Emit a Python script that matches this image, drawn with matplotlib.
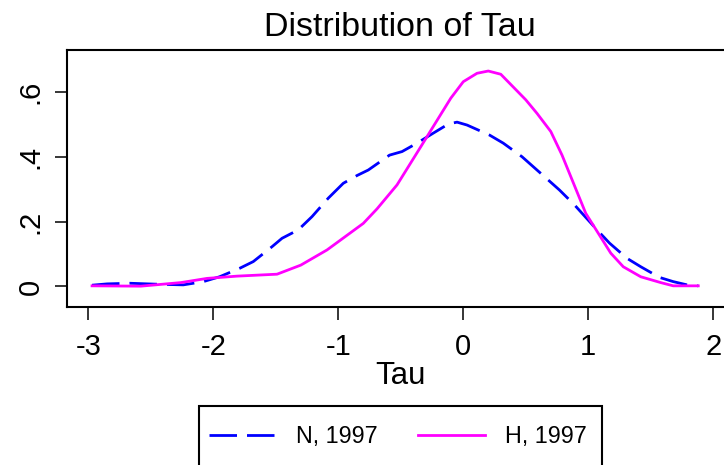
import matplotlib
matplotlib.use("Agg")
import matplotlib.pyplot as plt
from matplotlib.patches import Rectangle

plt.rcParams["font.family"] = ["Liberation Sans", "DejaVu Sans"]

# kernel density estimates
tau_n = [-2.97, -2.85, -2.67, -2.45, -2.24, -2.08, -1.95, -1.79, -1.68, -1.53,
         -1.45, -1.32, -1.21, -1.08, -0.96, -0.85, -0.76, -0.59, -0.49, -0.37,
         -0.24, -0.12, -0.05, 0.03, 0.21, 0.32, 0.47, 0.68, 0.77, 0.89,
         1.07, 1.17, 1.31, 1.42, 1.57, 1.68, 1.79, 1.88]
dens_n = [0.004, 0.008, 0.010, 0.007, 0.005, 0.015, 0.030, 0.056, 0.077, 0.123,
          0.149, 0.175, 0.216, 0.273, 0.319, 0.343, 0.360, 0.406, 0.417, 0.443,
          0.474, 0.502, 0.508, 0.499, 0.468, 0.443, 0.401, 0.329, 0.298, 0.252,
          0.175, 0.134, 0.087, 0.061, 0.028, 0.015, 0.005, 0.002]

tau_h = [-2.97, -2.58, -2.26, -2.05, -1.81, -1.49, -1.30, -1.09, -0.80, -0.69,
         -0.53, -0.34, -0.10, 0.00, 0.11, 0.20, 0.30, 0.50, 0.59, 0.70,
         0.79, 0.98, 1.18, 1.28, 1.42, 1.58, 1.68, 1.88]
dens_h = [0.002, 0.001, 0.012, 0.025, 0.032, 0.038, 0.066, 0.113, 0.195, 0.240,
          0.314, 0.432, 0.582, 0.633, 0.659, 0.666, 0.656, 0.577, 0.535, 0.479,
          0.406, 0.226, 0.103, 0.061, 0.030, 0.012, 0.002, 0.002]

xticks = [-3, -2, -1, 0, 1, 2]
yticks = [0, 0.2, 0.4, 0.6]
ytick_labels = ["0", ".2", ".4", ".6"]

fig = plt.figure(figsize=(7.24, 4.65), dpi=100)
ax = fig.add_axes([0.0921, 0.3398, 0.9207, 0.5527])

dash = (0, (9.9, 3.6))
ax.plot(tau_n, dens_n, color="#0000ff", lw=2.0, ls=dash, label="N, 1997")
ax.plot(tau_h, dens_h, color="#ff00ff", lw=2.0, label="H, 1997")

ax.set_xlim(-3.173, 2.16)
ax.set_ylim(-0.0634, 0.731)
ax.set_xticks(xticks)
ax.set_xticklabels([str(t) for t in xticks])
ax.set_yticks(yticks)
ax.set_yticklabels(ytick_labels, rotation=90, va="center")

for s in ax.spines.values():
    s.set_linewidth(1.5)
ax.tick_params(length=9, width=1.1, labelsize=21)
ax.tick_params(axis="x", pad=10)
ax.tick_params(axis="y", pad=7)

ax.set_title("Distribution of Tau", fontsize=24.5, pad=10)
ax.set_xlabel("Tau", fontsize=22.5, labelpad=0)

fig.legend(loc="center", bbox_to_anchor=(398 / 724, 1 - 436.7 / 465), ncol=2,
           frameon=False, fontsize=16.8, handlelength=2.9, handletextpad=0.85,
           columnspacing=1.7, borderpad=0)
fig.add_artist(Rectangle((199 / 724, -0.02), 403 / 724, (465 - 405.7) / 465 + 0.02,
                         transform=fig.transFigure, fill=False, lw=1.5,
                         edgecolor="black"))

fig.savefig("out.png", dpi=100)
